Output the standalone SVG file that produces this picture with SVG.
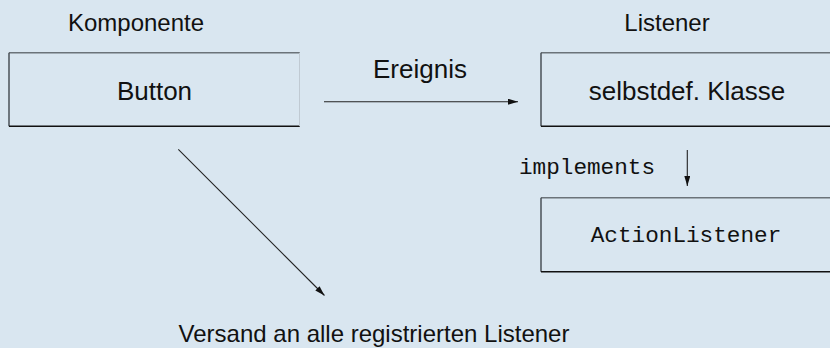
<svg xmlns="http://www.w3.org/2000/svg" width="830" height="348" viewBox="0 0 830 348">
<defs>
<style>
.t{font-family:"Liberation Sans",Arial,sans-serif;font-size:24px;fill:#111;}
.n{font-family:"Liberation Sans",Arial,sans-serif;font-size:26px;fill:#111;}
.m{font-family:"Liberation Mono","Courier New",monospace;font-size:22.7px;fill:#111;}
.c{stroke:#222;stroke-width:1.1;fill:none;}
.et{stroke:#6b7379;stroke-width:1.4;}
.el{stroke:#3f464c;stroke-width:1.4;}
.eb{stroke:#111;stroke-width:1.4;}
.er{stroke:#c0cad3;stroke-width:1;}
</style>
<marker id="ah" viewBox="0 0 10 6" refX="10" refY="3" markerWidth="10" markerHeight="6" markerUnits="userSpaceOnUse" orient="auto">
<path d="M0,0 L10,3 L0,6 Z" fill="#111"/>
</marker>
</defs>
<rect width="830" height="348" fill="#d9e6f0"/>
<text class="t" x="136" y="31" text-anchor="middle">Komponente</text>
<text class="t" x="667" y="31" text-anchor="middle">Listener</text>
<g id="button">
<line class="et" x1="9" y1="52.7" x2="300" y2="52.7"/>
<line class="el" x1="9" y1="52.7" x2="9" y2="126.3"/>
<line class="eb" x1="9" y1="126.3" x2="300" y2="126.3"/>
<line class="er" x1="299.5" y1="52.7" x2="299.5" y2="126.3"/>
<text class="n" x="154.5" y="100" text-anchor="middle">Button</text>
</g>
<g id="klasse">
<line class="et" x1="541" y1="52.7" x2="830" y2="52.7"/>
<line class="el" x1="541" y1="52.7" x2="541" y2="126.3"/>
<line class="eb" x1="541" y1="126.3" x2="830" y2="126.3"/>
<text class="n" x="687" y="100" text-anchor="middle">selbstdef. Klasse</text>
</g>
<g id="actionlistener">
<line class="et" x1="541" y1="197.7" x2="830" y2="197.7"/>
<line class="el" x1="541" y1="197.7" x2="541" y2="271.7"/>
<line class="eb" x1="541" y1="271.7" x2="830" y2="271.7"/>
<text class="m" x="686" y="242.3" text-anchor="middle">ActionListener</text>
</g>
<g id="connectors">
<line class="c" x1="324" y1="101.7" x2="518" y2="101.7" marker-end="url(#ah)"/>
<line class="c" x1="687.3" y1="150" x2="687.3" y2="186" marker-end="url(#ah)"/>
<line class="c" x1="178.3" y1="149.3" x2="324.5" y2="295.5" marker-end="url(#ah)"/>
</g>
<text class="n" x="420" y="78" text-anchor="middle">Ereignis</text>
<text class="m" x="587" y="174.3" text-anchor="middle">implements</text>
<text class="t" x="374" y="342" text-anchor="middle">Versand an alle registrierten Listener</text>
</svg>
